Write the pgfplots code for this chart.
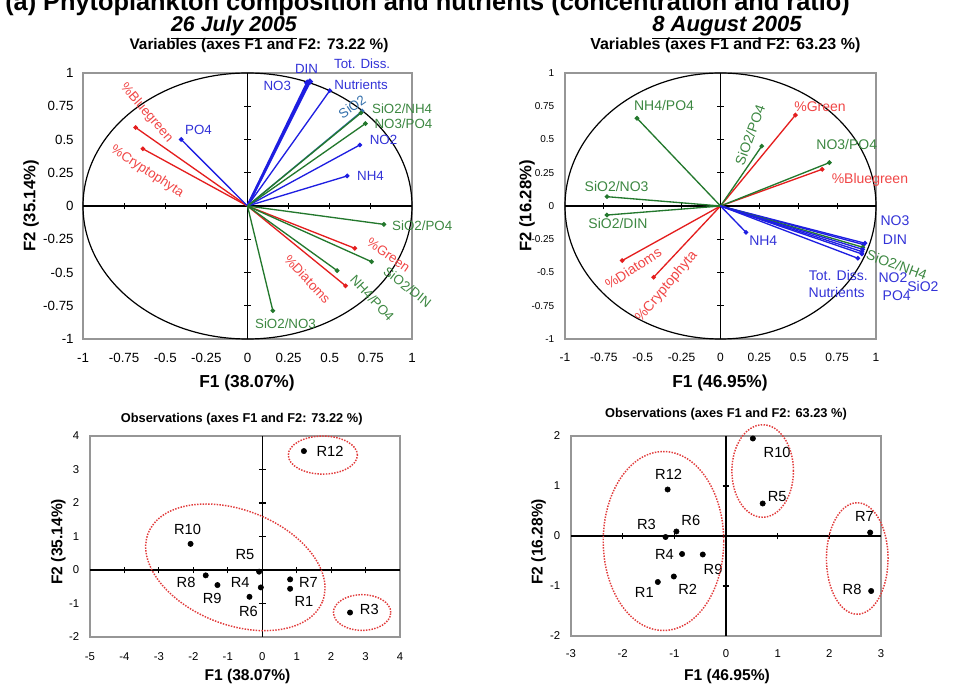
\documentclass[border=0pt]{standalone}
\usepackage{pgfplots}
\pgfplotsset{compat=1.18}
\usepackage{fontspec}
\setmainfont{Liberation Sans}
\definecolor{vred}{RGB}{228,30,30}
\definecolor{lred}{RGB}{240,70,70}
\definecolor{vblue}{RGB}{30,30,225}
\definecolor{lblue}{RGB}{50,50,215}
\definecolor{vgreen}{RGB}{35,120,45}
\definecolor{lgreen}{RGB}{60,135,65}
\definecolor{vteal}{RGB}{50,110,170}
\definecolor{framegray}{RGB}{150,150,150}
\definecolor{ellred}{RGB}{225,60,60}
\pgfplotsset{
 frameaxis/.style={scale only axis, anchor=south west, axis line style={framegray, line width=0.8pt},
   major tick length=0pt, tick style={draw=none}, /pgf/number format/assume math mode=true},
 midaxis/.style={scale only axis, anchor=south west, axis lines=middle, axis line style={-, black, line width=0.8pt},
   xticklabels={}, yticklabels={}, tick style={black, line width=0.8pt}, major tick length=5pt, tick align=center, clip=false},
 vec/.style={line width=1pt, mark=*, mark size=1.2pt, mark indices={2}},
 obs/.style={only marks, mark=*, mark size=2pt, black},
}
\tikzset{ell/.style={ellred, line width=1.1pt, densely dotted}}
\newcommand\lf{\fontsize{10}{12}\selectfont}
\newcommand\rf{\fontsize{10.5}{12}\selectfont}
\newcommand\of{\fontsize{11}{13}\selectfont}
\begin{document}
\begin{tikzpicture}
\useasboundingbox (0,0) rectangle (715.5pt,514.5pt);
\clip (0,0) rectangle (715.5pt,514.5pt);
% header and titles
\node[anchor=base west, font=\bfseries\fontsize{19}{21}\selectfont, inner sep=0] at (3.75pt,506.5pt) {(a) Phytoplankton composition and nutrients (concentration and ratio)};
\node[anchor=base, font=\bfseries\itshape\fontsize{16}{18}\selectfont, inner sep=0] at (175.5pt,490.7pt) {\underline{26 July 2005}};
\node[anchor=base, font=\bfseries\itshape\fontsize{16.5}{18}\selectfont, inner sep=0] at (545.25pt,490.7pt) {\underline{8 August 2005}};
\node[anchor=base, font=\bfseries\fontsize{11.5}{13}\selectfont, inner sep=0] at (194.25pt,477.5pt) {Variables (axes F1 and F2: 73.22 \%)};
\node[anchor=base, font=\bfseries\fontsize{12}{13}\selectfont, inner sep=0] at (544pt,477.5pt) {Variables (axes F1 and F2: 63.23 \%)};
\node[anchor=base, font=\bfseries\fontsize{13}{15}\selectfont, inner sep=0] at (185.25pt,223.5pt) {F1 (38.07\%)};
\node[anchor=base, font=\bfseries\fontsize{13}{15}\selectfont, inner sep=0] at (540pt,223.5pt) {F1 (46.95\%)};
\node[rotate=90, font=\bfseries\fontsize{12.5}{14}\selectfont, inner sep=0] at (23.25pt,360pt) {F2 (35.14\%)};
\node[rotate=90, font=\bfseries\fontsize{12.5}{14}\selectfont, inner sep=0] at (395.25pt,360pt) {F2 (16.28\%)};
\node[font=\bfseries\fontsize{9.6}{11}\selectfont, inner sep=0] at (181.3pt,200pt) {Observations (axes F1 and F2: 73.22 \%)};
\node[font=\bfseries\fontsize{9.6}{11}\selectfont, inner sep=0] at (544.5pt,204pt) {Observations (axes F1 and F2: 63.23 \%)};
\node[font=\bfseries\fontsize{11.7}{13}\selectfont, inner sep=0] at (185.6pt,7.5pt) {F1 (38.07\%)};
\node[font=\bfseries\fontsize{11.7}{13}\selectfont, inner sep=0] at (545.25pt,7.5pt) {F1 (46.95\%)};
\node[rotate=90, font=\bfseries\fontsize{11.7}{13}\selectfont, inner sep=0] at (43.7pt,108.2pt) {F2 (35.14\%)};
\node[rotate=90, font=\bfseries\fontsize{11.7}{13}\selectfont, inner sep=0] at (404pt,108.2pt) {F2 (16.28\%)};

%================ TOP LEFT =================
\begin{axis}[frameaxis, at={(62.25pt,260.25pt)}, width=246.75pt, height=199.5pt,
  xmin=-1,xmax=1,ymin=-1,ymax=1,
  xtick={-1,-0.75,-0.5,-0.25,0,0.25,0.5,0.75,1}, ytick={-1,-0.75,-0.5,-0.25,0,0.25,0.5,0.75,1},
  ticklabel style={font=\fontsize{10}{12}\selectfont},
  xticklabel style={yshift=-7pt}, yticklabel style={xshift=-3.5pt}]
\end{axis}
\begin{axis}[midaxis, at={(62.25pt,260.25pt)}, width=246.75pt, height=199.5pt,
  xmin=-1,xmax=1,ymin=-1,ymax=1,
  xtick={-0.75,-0.5,-0.25,0.25,0.5,0.75}, ytick={-0.75,-0.5,-0.25,0.25,0.5,0.75}]
\draw[black, line width=0.9pt] (axis cs:0,0) ellipse [x radius=1, y radius=1];
\addplot[vec, vred] coordinates {(0,0) (-0.68,0.59)};
\addplot[vec, vred] coordinates {(0,0) (-0.636,0.43)};
\addplot[vec, vred] coordinates {(0,0) (0.652,-0.318)};
\addplot[vec, vred] coordinates {(0,0) (0.596,-0.60)};
\addplot[vec, vblue] coordinates {(0,0) (-0.403,0.50)};
\addplot[vec, vblue, line width=1.8pt] coordinates {(0,0) (0.379,0.935)};
\addplot[vec, vblue, line width=1.8pt] coordinates {(0,0) (0.363,0.927)};
\addplot[vec, vblue] coordinates {(0,0) (0.50,0.867)};
\addplot[vec, vblue] coordinates {(0,0) (0.683,0.459)};
\addplot[vec, vblue] coordinates {(0,0) (0.606,0.226)};
\addplot[vec, vteal] coordinates {(0,0) (0.697,0.714)};
\addplot[vec, vgreen] coordinates {(0,0) (0.69,0.70)};
\addplot[vec, vgreen] coordinates {(0,0) (0.717,0.62)};
\addplot[vec, vgreen] coordinates {(0,0) (0.829,-0.138)};
\addplot[vec, vgreen] coordinates {(0,0) (0.754,-0.419)};
\addplot[vec, vgreen] coordinates {(0,0) (0.545,-0.486)};
\addplot[vec, vgreen] coordinates {(0,0) (0.154,-0.787)};
\node[lred, font=\lf, rotate=-49] at (axis cs:-0.614,0.699) {\%Bluegreen};
\node[lred, font=\lf, rotate=-33] at (axis cs:-0.61,0.258) {\%Cryptophyta};
\node[lblue, font=\lf] at (axis cs:-0.298,0.571) {PO4};
\node[lblue, font=\lf] at (axis cs:0.181,0.902) {NO3};
\node[lblue, font=\lf] at (axis cs:0.359,1.03) {DIN};
\node[lblue, font=\lf] at (axis cs:0.697,1.068) {Tot. Diss.};
\node[lblue, font=\lf] at (axis cs:0.691,0.915) {Nutrients};
\node[vteal, font=\lf, rotate=35] at (axis cs:0.636,0.747) {SiO2};
\node[lgreen, font=\lf] at (axis cs:0.94,0.735) {SiO2/NH4};
\node[lgreen, font=\lf] at (axis cs:0.948,0.622) {NO3/PO4};
\node[lblue, font=\lf] at (axis cs:0.827,0.496) {NO2};
\node[lblue, font=\lf] at (axis cs:0.748,0.226) {NH4};
\node[lgreen, font=\lf] at (axis cs:1.062,-0.150) {SiO2/PO4};
\node[lred, font=\lf, rotate=-35] at (axis cs:0.857,-0.368) {\%Green};
\node[lgreen, font=\lf, rotate=-38] at (axis cs:0.973,-0.609) {SiO2/DIN};
\node[lgreen, font=\lf, rotate=-47] at (axis cs:0.758,-0.694) {NH4/PO4};
\node[lred, font=\lf, rotate=-47] at (axis cs:0.365,-0.549) {\%Diatoms};
\node[lgreen, font=\lf] at (axis cs:0.231,-0.882) {SiO2/NO3};
\end{axis}

%================ TOP RIGHT =================
\begin{axis}[frameaxis, at={(423.75pt,260.25pt)}, width=233.25pt, height=199.5pt,
  xmin=-1,xmax=1,ymin=-1,ymax=1,
  xtick={-1,-0.75,-0.5,-0.25,0,0.25,0.5,0.75,1}, ytick={-1,-0.75,-0.5,-0.25,0,0.25,0.5,0.75,1},
  xticklabel style={font=\fontsize{9}{11}\selectfont, yshift=-7pt},
  yticklabel style={font=\fontsize{7.5}{9}\selectfont, xshift=-4.5pt}]
\end{axis}
\begin{axis}[midaxis, at={(423.75pt,260.25pt)}, width=233.25pt, height=199.5pt,
  xmin=-1,xmax=1,ymin=-1,ymax=1,
  xtick={-0.75,-0.5,-0.25,0.25,0.5,0.75}, ytick={-0.75,-0.5,-0.25,0.25,0.5,0.75}]
\draw[black, line width=0.9pt] (axis cs:0,0) ellipse [x radius=1, y radius=1];
\addplot[vec, vred] coordinates {(0,0) (0.482,0.684)};
\addplot[vec, vred] coordinates {(0,0) (0.654,0.276)};
\addplot[vec, vred] coordinates {(0,0) (-0.632,-0.41)};
\addplot[vec, vred] coordinates {(0,0) (-0.43,-0.536)};
\addplot[vec, vgreen] coordinates {(0,0) (-0.537,0.66)};
\addplot[vec, vgreen] coordinates {(0,0) (-0.73,0.07)};
\addplot[vec, vgreen] coordinates {(0,0) (-0.73,-0.068)};
\addplot[vec, vgreen] coordinates {(0,0) (0.265,0.45)};
\addplot[vec, vgreen] coordinates {(0,0) (0.70,0.326)};
\addplot[vec, vblue] coordinates {(0,0) (0.164,-0.198)};
\addplot[vec, vblue] coordinates {(0,0) (0.929,-0.28)};
\addplot[vec, vblue] coordinates {(0,0) (0.92,-0.29)};
\addplot[vec, vgreen] coordinates {(0,0) (0.915,-0.31)};
\addplot[vec, vblue] coordinates {(0,0) (0.915,-0.326)};
\addplot[vec, vblue] coordinates {(0,0) (0.91,-0.343)};
\addplot[vec, vblue] coordinates {(0,0) (0.909,-0.36)};
\addplot[vec, vblue] coordinates {(0,0) (0.883,-0.393)};
\node[lgreen, font=\rf] at (axis cs:-0.363,0.754) {NH4/PO4};
\node[lgreen, font=\rf] at (axis cs:-0.668,0.145) {SiO2/NO3};
\node[lgreen, font=\rf] at (axis cs:-0.659,-0.130) {SiO2/DIN};
\node[lgreen, font=\rf, rotate=70] at (axis cs:0.19,0.534) {SiO2/PO4};
\node[lred, font=\rf] at (axis cs:0.64,0.747) {\%Green};
\node[lgreen, font=\rf] at (axis cs:0.812,0.459) {NO3/PO4};
\node[lred, font=\rf] at (axis cs:0.961,0.195) {\%Bluegreen};
\node[lred, font=\rf, rotate=33] at (axis cs:-0.561,-0.468) {\%Diatoms};
\node[lred, font=\rf, rotate=50] at (axis cs:-0.346,-0.607) {\%Cryptophyta};
\node[lblue, font=\rf] at (axis cs:0.275,-0.261) {NH4};
\node[lblue, font=\rf] at (axis cs:1.122,-0.111) {NO3};
\node[lblue, font=\rf] at (axis cs:1.122,-0.256) {DIN};
\node[lgreen, font=\rf, rotate=-20] at (axis cs:1.133,-0.444) {SiO2/NH4};
\node[lblue, font=\rf] at (axis cs:1.109,-0.536) {NO2};
\node[lblue, font=\rf] at (axis cs:1.133,-0.677) {PO4};
\node[lblue, font=\rf] at (axis cs:1.302,-0.607) {SiO2};
\node[lblue, font=\rf] at (axis cs:0.758,-0.519) {Tot. Diss.};
\node[lblue, font=\rf] at (axis cs:0.747,-0.649) {Nutrients};
\end{axis}

%================ BOTTOM LEFT =================
\begin{axis}[frameaxis, at={(67.5pt,36.75pt)}, width=232.5pt, height=150.75pt,
  xmin=-5,xmax=4,ymin=-2,ymax=4,
  xtick={-5,-4,...,4}, ytick={-2,-1,...,4},
  ticklabel style={font=\fontsize{8.5}{10}\selectfont},
  xticklabel style={yshift=-8pt}, yticklabel style={xshift=-4.5pt}]
\end{axis}
\begin{axis}[midaxis, at={(67.5pt,36.75pt)}, width=232.5pt, height=150.75pt,
  xmin=-5,xmax=4,ymin=-2,ymax=4,
  xtick={-4,-3,-2,-1,1,2,3}, ytick={-1,1,2,3}]
\addplot[obs] coordinates {(1.21,3.55) (-2.08,0.78) (-1.64,-0.16) (-1.30,-0.45) (-0.09,-0.05) (-0.04,-0.52) (-0.37,-0.80) (0.81,-0.28) (0.81,-0.56) (2.55,-1.27)};
\node[font=\of] at (axis cs:1.97,3.53) {R12};
\node[font=\of] at (axis cs:-2.17,1.21) {R10};
\node[font=\of] at (axis cs:-0.50,0.47) {R5};
\node[font=\of] at (axis cs:-2.21,-0.38) {R8};
\node[font=\of] at (axis cs:-0.64,-0.38) {R4};
\node[font=\of] at (axis cs:-1.45,-0.84) {R9};
\node[font=\of] at (axis cs:-0.40,-1.24) {R6};
\node[font=\of] at (axis cs:1.34,-0.38) {R7};
\node[font=\of] at (axis cs:1.21,-0.93) {R1};
\node[font=\of] at (axis cs:3.11,-1.19) {R3};
\coordinate (BLa) at (axis cs:-0.78,0.08);
\coordinate (BLb) at (axis cs:1.76,3.43);
\coordinate (BLc) at (axis cs:2.90,-1.27);
\end{axis}
\draw[ell, rotate around={-21.3:(BLa)}] (BLa) ellipse [x radius=70.2pt, y radius=43pt];
\draw[ell] (BLb) ellipse [x radius=25.9pt, y radius=14.25pt];
\draw[ell] (BLc) ellipse [x radius=21.5pt, y radius=13.4pt];

%================ BOTTOM RIGHT =================
\begin{axis}[frameaxis, at={(428.25pt,37.5pt)}, width=232.5pt, height=150pt,
  xmin=-3,xmax=3,ymin=-2,ymax=2,
  xtick={-3,-2,...,3}, ytick={-2,-1,...,2},
  ticklabel style={font=\fontsize{8.5}{10}\selectfont},
  xticklabel style={yshift=-6.5pt}, yticklabel style={xshift=-4.5pt}]
\end{axis}
\begin{axis}[midaxis, at={(428.25pt,37.5pt)}, width=232.5pt, height=150pt,
  xmin=-3,xmax=3,ymin=-2,ymax=2,
  xtick={-2,-1,1,2}, ytick={-1,1}]
\addplot[obs] coordinates {(0.52,1.95) (0.71,0.65) (-1.13,0.93) (-1.17,-0.02) (-0.96,0.09) (-0.85,-0.36) (-0.45,-0.37) (-1.01,-0.81) (-1.32,-0.92) (2.79,0.07) (2.81,-1.10)};
\node[font=\of] at (axis cs:0.99,1.67) {R10};
\node[font=\of] at (axis cs:0.99,0.79) {R5};
\node[font=\of] at (axis cs:-1.11,1.23) {R12};
\node[font=\of] at (axis cs:-1.54,0.24) {R3};
\node[font=\of] at (axis cs:-0.68,0.32) {R6};
\node[font=\of] at (axis cs:-1.19,-0.36) {R4};
\node[font=\of] at (axis cs:-0.25,-0.67) {R9};
\node[font=\of] at (axis cs:-1.58,-1.12) {R1};
\node[font=\of] at (axis cs:-0.74,-1.07) {R2};
\node[font=\of] at (axis cs:2.68,0.40) {R7};
\node[font=\of] at (axis cs:2.44,-1.07) {R8};
\coordinate (BRa) at (axis cs:-1.21,-0.10);
\coordinate (BRb) at (axis cs:0.71,1.30);
\coordinate (BRc) at (axis cs:2.54,-0.45);
\end{axis}
\draw[ell] (BRa) ellipse [x radius=45.2pt, y radius=67.1pt];
\draw[ell] (BRb) ellipse [x radius=23.1pt, y radius=34.7pt];
\draw[ell] (BRc) ellipse [x radius=23.1pt, y radius=41.8pt];
\end{tikzpicture}
\end{document}
